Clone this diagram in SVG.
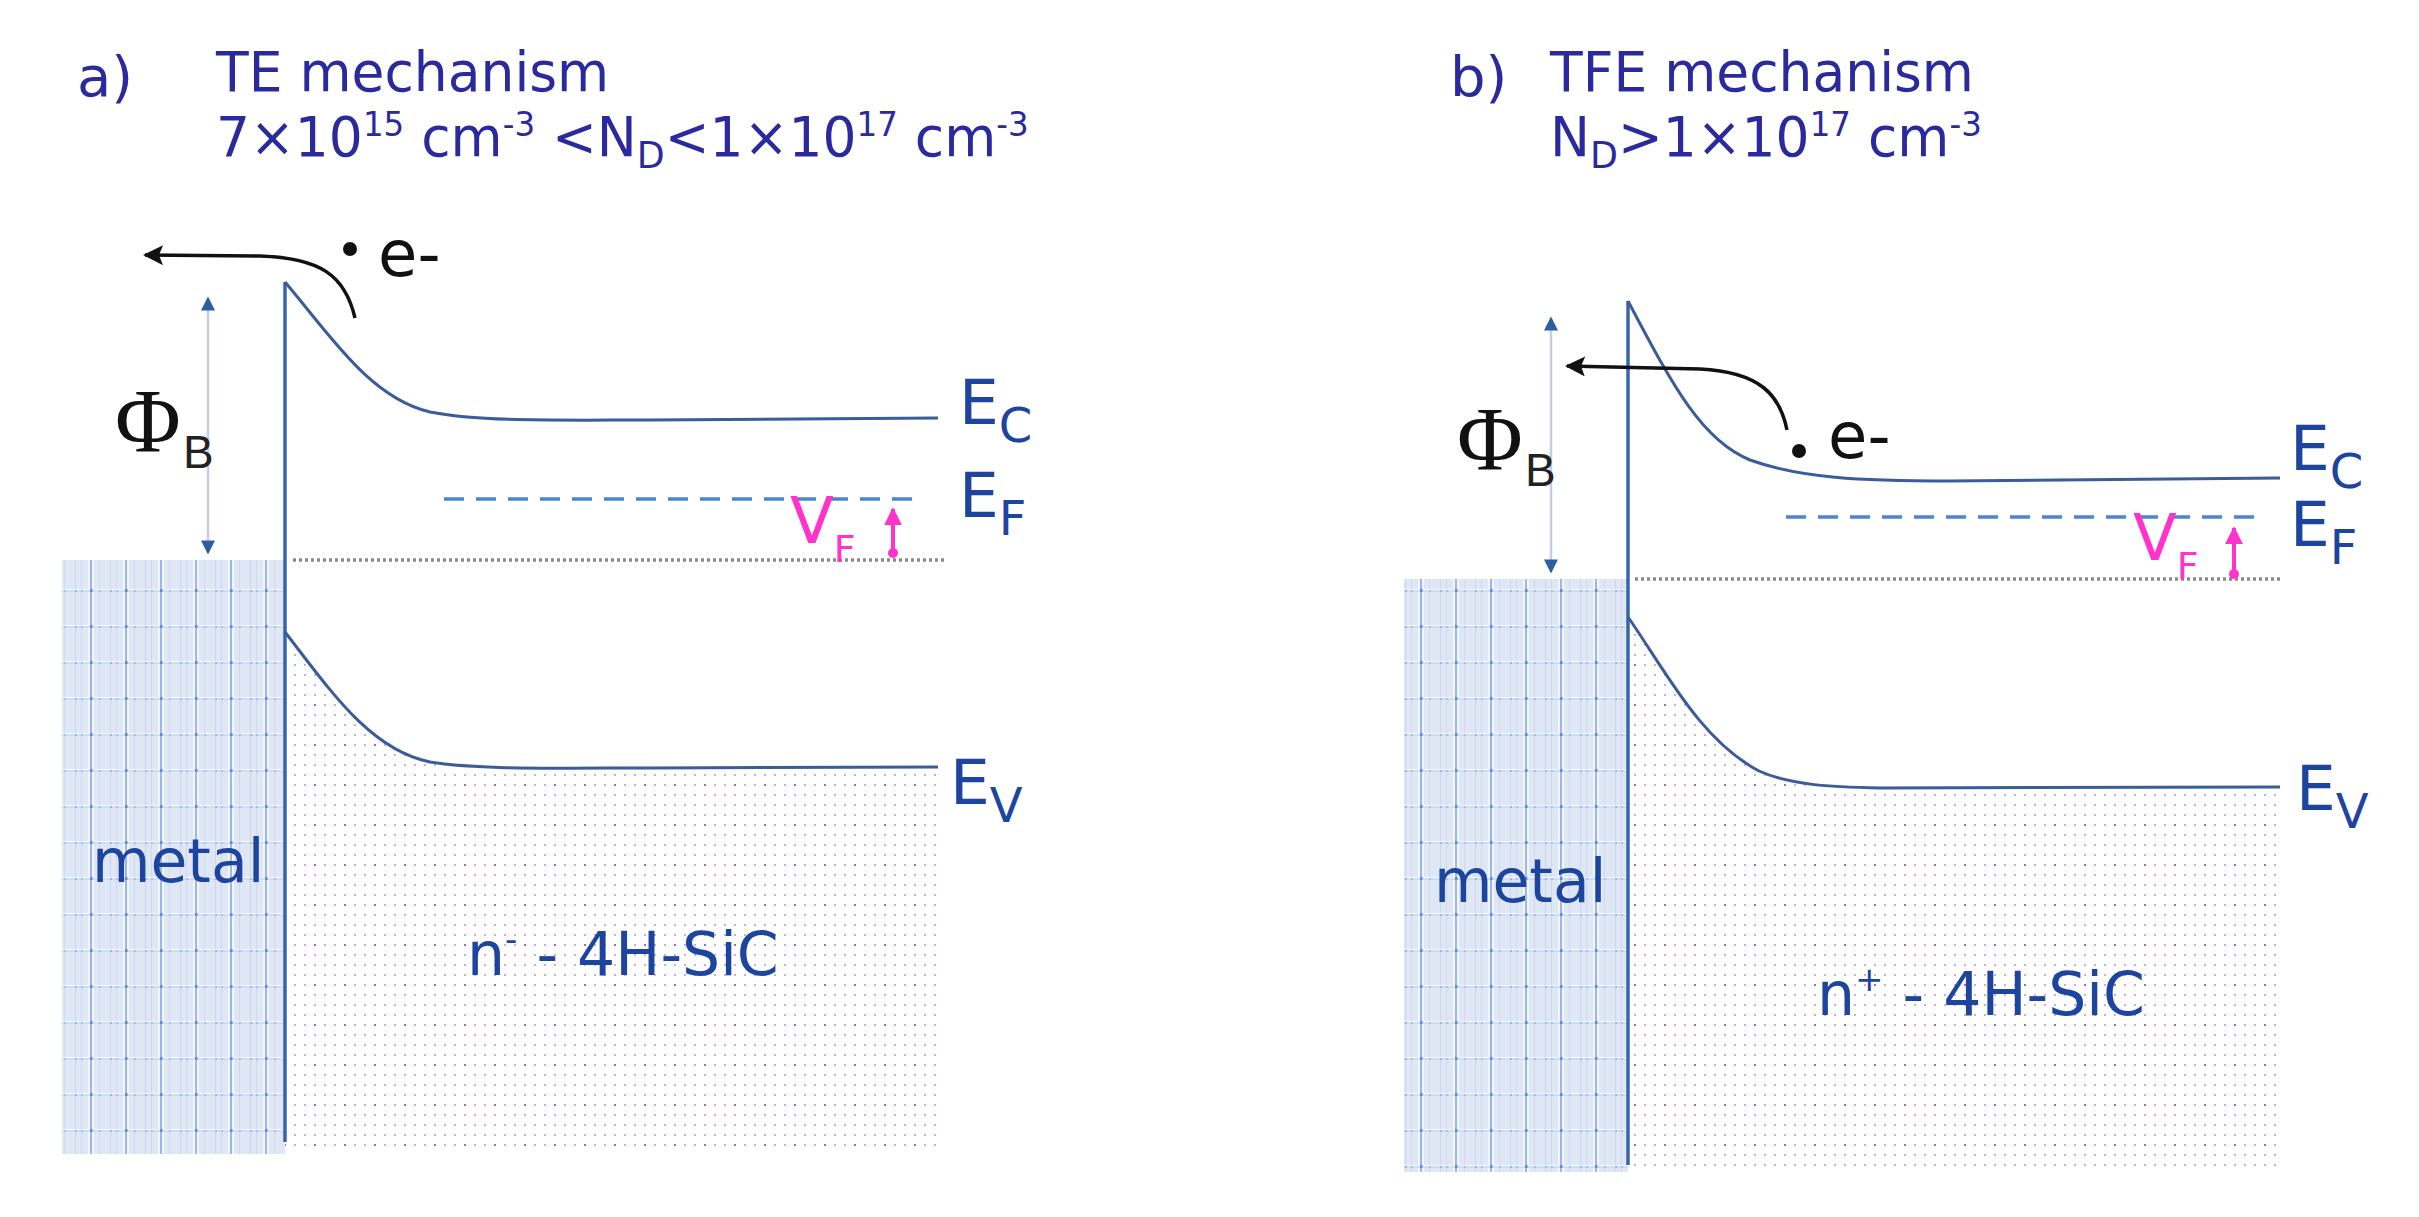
<svg xmlns="http://www.w3.org/2000/svg" width="2419" height="1217" viewBox="0 0 2419 1217">
<style>
.title{font-family:"DejaVu Sans",sans-serif;fill:#2a2a9e;font-size:56px}
.lbl{font-family:"DejaVu Sans",sans-serif;fill:#1d45a0;font-size:60px}
.elbl{font-family:"DejaVu Sans",sans-serif;fill:#1d45a0;font-size:63px}
.esub{font-size:48px}
.sub{font-size:38px}
.sup{font-size:34px}
.band{fill:none;stroke:#3a5c98;stroke-width:3}
.iface{stroke:#3a64a8;stroke-width:3.5}
.ef{stroke:#4a86d0;stroke-width:3.5;stroke-dasharray:20,12}
.dot{stroke:#8a8a8a;stroke-width:3.5;stroke-dasharray:3,3}
.phi{stroke:#c8cce2;stroke-width:2.5}
.phisym{font-family:"Liberation Serif",serif;font-size:90px;fill:#111}
.phisub{font-family:"Liberation Sans",sans-serif;font-size:46px;fill:#222}
.vf{font-family:"DejaVu Sans",sans-serif;fill:#ff33cc;font-size:64px}
.blk{font-family:"DejaVu Sans",sans-serif;fill:#111;font-size:64px}
</style>
<defs>
<pattern id="metalPat" width="35" height="36" patternUnits="userSpaceOnUse">
<rect width="35" height="36" fill="#dfe7f5"/>
<rect x="5" width="1" height="36" fill="#cad7f0"/>
<rect x="11" width="1" height="36" fill="#cdd9f1"/>
<rect x="18" width="2" height="36" fill="#f2f5fc"/>
<rect x="20" width="2" height="36" fill="#9cb8e9"/>
<rect x="22" width="2" height="36" fill="#f2f5fc"/>
<rect x="29" width="1" height="36" fill="#cdd9f1"/>
<rect y="13" width="35" height="1" fill="#f4f7fd"/>
<rect x="0" y="14" width="35" height="2" fill="#c9d7f1" opacity="0.7"/>
<rect x="20" y="13" width="2.5" height="3" fill="#5a8ee0"/>
<rect x="5" y="14" width="2" height="2" fill="#9cb8e9"/>
<rect x="11" y="14" width="2" height="2" fill="#a8c0ec"/>
<rect x="29" y="14" width="2" height="2" fill="#a8c0ec"/>
</pattern>
<pattern id="semiPat" width="10" height="10" patternUnits="userSpaceOnUse">
<rect x="4" y="4" width="2" height="2" fill="#c2aee0"/>
</pattern>
<pattern id="semiPat2" width="30" height="40" patternUnits="userSpaceOnUse">
<rect width="30" height="40" fill="url(#semiPat)"/>
<rect x="14" y="24" width="2" height="2" fill="#9a6cc4"/>
</pattern>
<marker id="ahBlue" viewBox="0 0 10 10" refX="9" refY="5" markerUnits="userSpaceOnUse" markerWidth="20" markerHeight="14" orient="auto-start-reverse">
<path d="M0,0 L10,5 L0,10 z" fill="#2a5fa0"/>
</marker>
<marker id="ahBlack" viewBox="0 0 10 10" refX="9" refY="5" markerUnits="userSpaceOnUse" markerWidth="22" markerHeight="20" orient="auto">
<path d="M0,0 L10,5 L0,10 L2,5 z" fill="#111"/>
</marker>
<marker id="ahPink" viewBox="0 0 10 10" refX="9" refY="5" markerUnits="userSpaceOnUse" markerWidth="18" markerHeight="26" orient="auto">
<path d="M0,0 L10,5 L0,10 z" fill="#ff33cc"/>
</marker>
</defs>
<rect width="2419" height="1217" fill="#fff"/>

<!-- Panel a -->
<g id="panel-a">
<text class="title" x="77" y="96" font-size="60">a)</text>
<g transform="translate(216,0) scale(0.955,1) translate(-216,0)">
<text class="title" x="216" y="91">TE mechanism</text>
<text class="title" x="216" y="156">7×10<tspan class="sup" dy="-20">15</tspan><tspan dy="20"> cm</tspan><tspan class="sup" dy="-20">-3</tspan><tspan dy="20"> &lt;N</tspan><tspan class="sub" dy="12">D</tspan><tspan dy="-12">&lt;1×10</tspan><tspan class="sup" dy="-20">17</tspan><tspan dy="20"> cm</tspan><tspan class="sup" dy="-20">-3</tspan></text>
</g>
</g>
<g id="metal-a">
<rect x="62" y="560" width="223" height="594" fill="url(#metalPat)"/>
<text class="lbl" x="92" y="882">metal</text>
</g>
<g id="semi-a">
<path d="M285,632 C330,690 370,750 430,762 C480,770 560,768 650,768 L938,767 L938,1154 L285,1154 Z" fill="url(#semiPat2)"/>
<text class="lbl" x="467" y="975">n<tspan class="sup" dy="-24">-</tspan><tspan dy="24"> - 4H-SiC</tspan></text>
</g>
<g id="bands-a">
<line class="iface" x1="285" y1="282" x2="285" y2="1142"/>
<path class="band" d="M285,282 C330,335 370,398 430,412 C480,422 560,420 650,420 L938,418"/>
<path class="band" d="M285,632 C330,690 370,750 430,762 C480,770 560,768 650,768 L938,767"/>
<line class="ef" x1="444" y1="499" x2="922" y2="499"/>
<line class="dot" x1="293" y1="560" x2="944" y2="560"/>
<text class="elbl" x="959" y="424">E<tspan class="esub" dy="18">C</tspan></text>
<text class="elbl" x="959" y="517">E<tspan class="esub" dy="18">F</tspan></text>
<text class="elbl" x="950" y="804">E<tspan class="esub" dy="18">V</tspan></text>
</g>
<g id="phi-a">
<line class="phi" x1="208" y1="298" x2="208" y2="553" marker-start="url(#ahBlue)" marker-end="url(#ahBlue)"/>
<text class="phisym" x="115" y="452">Φ</text>
<text class="phisub" x="183" y="468">B</text>
</g>
<g id="electron-a">
<path d="M355,318 C345,275 320,258 260,256 L145,255" fill="none" stroke="#111" stroke-width="3.5" marker-end="url(#ahBlack)"/>
<circle cx="350" cy="249" r="7" fill="#111"/>
<text class="blk" x="378" y="276">e-</text>
</g>
<g id="vf-a">
<text class="vf" x="790" y="543">V<tspan class="sub" font-size="46" dy="19">F</tspan></text>
<line x1="893" y1="553" x2="893" y2="509" stroke="#ff33cc" stroke-width="4" marker-end="url(#ahPink)"/>
<circle cx="893" cy="553" r="5" fill="#ff33cc"/>
</g>

<!-- Panel b -->
<g id="panel-b">
<text class="title" x="1450" y="96" font-size="60">b)</text>
<g transform="translate(1550,0) scale(0.955,1) translate(-1550,0)">
<text class="title" x="1550" y="91">TFE mechanism</text>
<text class="title" x="1550" y="156">N<tspan class="sub" dy="12">D</tspan><tspan dy="-12">&gt;1×10</tspan><tspan class="sup" dy="-20">17</tspan><tspan dy="20"> cm</tspan><tspan class="sup" dy="-20">-3</tspan></text>
</g>
</g>
<g id="metal-b">
<rect x="1404" y="579" width="224" height="593" fill="url(#metalPat)"/>
<text class="lbl" x="1434" y="902">metal</text>
</g>
<g id="semi-b">
<path d="M1628,617 C1665,670 1700,740 1759,771 C1790,785 1830,787 1880,788 L2280,787 L2280,1172 L1628,1172 Z" fill="url(#semiPat2)"/>
<text class="lbl" x="1817" y="1015">n<tspan class="sup" dy="-24">+</tspan><tspan dy="24"> - 4H-SiC</tspan></text>
</g>
<g id="bands-b">
<line class="iface" x1="1628" y1="301" x2="1628" y2="1165"/>
<path class="band" d="M1628,301 C1670,380 1700,440 1750,460 C1800,478 1860,481 1950,481 L2280,478"/>
<path class="band" d="M1628,617 C1665,670 1700,740 1759,771 C1790,785 1830,787 1880,788 L2280,787"/>
<line class="ef" x1="1786" y1="517" x2="2260" y2="517"/>
<line class="dot" x1="1635" y1="579" x2="2283" y2="579"/>
<text class="elbl" x="2290" y="470">E<tspan class="esub" dy="18">C</tspan></text>
<text class="elbl" x="2290" y="546">E<tspan class="esub" dy="18">F</tspan></text>
<text class="elbl" x="2296" y="810">E<tspan class="esub" dy="18">V</tspan></text>
</g>
<g id="phi-b">
<line class="phi" x1="1551" y1="318" x2="1551" y2="572" marker-start="url(#ahBlue)" marker-end="url(#ahBlue)"/>
<text class="phisym" x="1457" y="470">Φ</text>
<text class="phisub" x="1525" y="486">B</text>
</g>
<g id="electron-b">
<path d="M1787,430 C1780,395 1760,372 1700,369 L1567,366" fill="none" stroke="#111" stroke-width="3.5" marker-end="url(#ahBlack)"/>
<circle cx="1799" cy="451" r="7" fill="#111"/>
<text class="blk" x="1828" y="458">e-</text>
</g>
<g id="vf-b">
<text class="vf" x="2133" y="560">V<tspan class="sub" font-size="46" dy="19">F</tspan></text>
<line x1="2234" y1="574" x2="2234" y2="528" stroke="#ff33cc" stroke-width="4" marker-end="url(#ahPink)"/>
<circle cx="2234" cy="574" r="5" fill="#ff33cc"/>
</g>
</svg>
